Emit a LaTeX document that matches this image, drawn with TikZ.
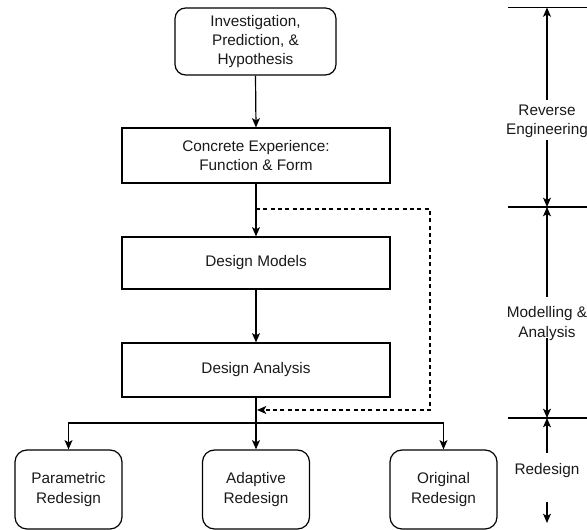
\documentclass[tikz,border=0pt]{standalone}
\usepackage{fontspec}
\setmainfont{Liberation Sans}
\usetikzlibrary{arrows.meta}
\begin{document}
\begin{tikzpicture}[x=0.75pt,y=-0.75pt,
  every node/.style={font=\fontsize{11.5pt}{14.5pt}\selectfont, text=black!90, align=center, inner sep=0pt},
  box/.style={draw, line width=0.9pt, minimum width=201pt, anchor=center},
  rbox/.style={draw, line width=0.9pt, rounded corners=8pt},
  conn/.style={line width=0.9pt, -{Stealth[length=7pt,width=6pt,inset=1.8pt]}},
  dconn/.style={conn, dash pattern=on 3pt off 2.5pt},
  plain/.style={line width=0.9pt},
  lab/.style={fill=white}]
\useasboundingbox (0,0) rectangle (587,530);
\clip (0,0) rectangle (587,530);
% main boxes
\node[rbox, minimum width=120.75pt, minimum height=50.25pt] (inv) at (255.5,41.5) {Investigation,\\Prediction, \&\\Hypothesis};
\node[box, minimum height=41.25pt] (conc) at (256,155.5) {Concrete Experience:\\Function \& Form};
\node[box, minimum height=39pt] (mod) at (256,263) {Design Models};
\node[box, minimum height=40.5pt] (ana) at (256,370) {Design Analysis};
\node[rbox, minimum width=80.25pt, minimum height=59.25pt, rounded corners=9pt] (par) at (68.5,489.5) {Parametric\\Redesign};
\node[rbox, minimum width=80.25pt, minimum height=59.25pt, rounded corners=9pt] (ada) at (256,489.5) {Adaptive\\Redesign};
\node[rbox, minimum width=80.25pt, minimum height=59.25pt, rounded corners=9pt] (ori) at (443.5,489.5) {Original\\Redesign};
% connectors
\draw[conn] (inv.south) -- (conc.north);
\draw[conn] (conc.south) -- (mod.north);
\draw[conn] (mod.south) -- (ana.north);
\coordinate (split) at (256,209);
\coordinate (back) at (257,410);
\coordinate (hub) at (256,423);
\draw[dconn] (split) -| (430,410) -- (back);
\draw[plain] (ana.south) -- (hub);
\draw[conn] (hub) -- (ada.north);
\draw[conn] (hub) -| (par.north);
\draw[conn] (hub) -| (ori.north);
% right scale
\coordinate (l1a) at (508,7.5); \coordinate (l1b) at (590,7.5);
\coordinate (l2a) at (508,207); \coordinate (l2b) at (590,207);
\coordinate (l3a) at (508,418); \coordinate (l3b) at (590,418);
\draw[plain] (l1a) -- (l1b);
\draw[plain] (l2a) -- (l2b);
\draw[plain] (l3a) -- (l3b);
\node (re) at (547,121.5) {Reverse\\Engineering};
\node (ma) at (547,323.5) {Modelling \&\\Analysis};
\node (rd) at (547,471) {Redesign};
\coordinate (t1) at (547,7.5); \coordinate (t2) at (547,207); \coordinate (t3) at (547,418); \coordinate (t4) at (547,523);
\coordinate (re1) at (547,100); \coordinate (re2) at (547,140);
\coordinate (ma1) at (547,297); \coordinate (ma2) at (547,338);
\coordinate (rd1) at (547,453); \coordinate (rd2) at (547,502);
\draw[conn] (re1) -- (t1);
\draw[conn] (re2) -- (t2);
\draw[conn] (ma1) -- (t2);
\draw[conn] (ma2) -- (t3);
\draw[conn] (rd1) -- (t3);
\draw[conn] (rd2) -- (t4);
\end{tikzpicture}
\end{document}
